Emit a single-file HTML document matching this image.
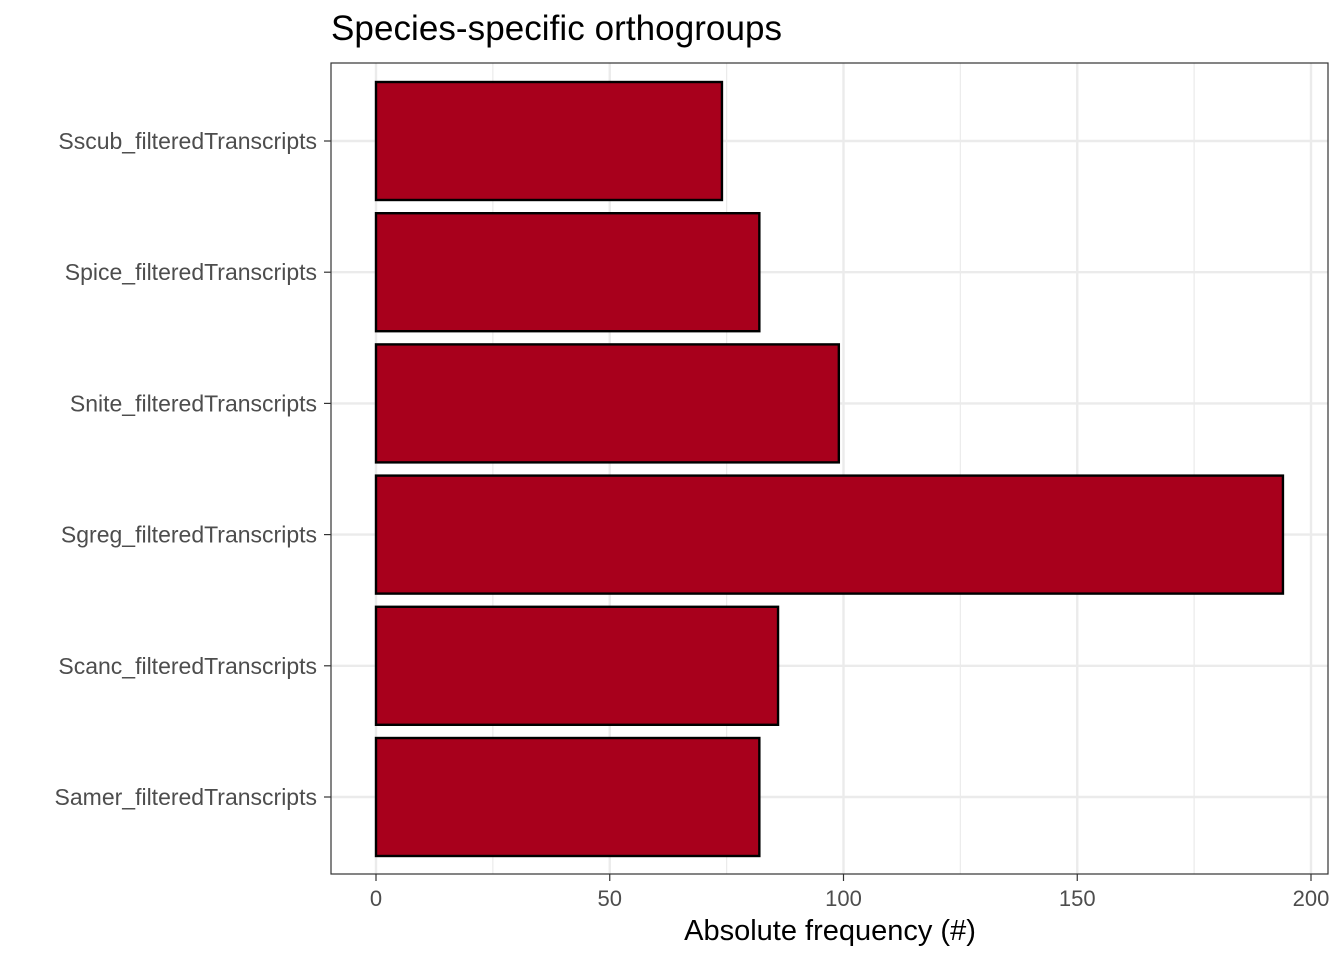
<!DOCTYPE html>
<html><head><meta charset="utf-8"><style>
body{margin:0;background:#fff;}
svg text{font-family:"Liberation Sans",Arial,sans-serif;}
</style></head><body>
<svg id="chart" width="1344" height="960">
<text x="331" y="40" font-size="35" fill="#000" textLength="451">Species-specific orthogroups</text>
<g id="grid"></g><g id="bars"></g><g id="axes"></g>
<rect x="331" y="63" width="997" height="811" fill="none" stroke="#333" stroke-width="1.2"/>
<text x="830" y="940" font-size="29" text-anchor="middle" fill="#000">Absolute frequency (#)</text>
</svg>
<script>
const categories=["Sscub_filteredTranscripts","Spice_filteredTranscripts","Snite_filteredTranscripts","Sgreg_filteredTranscripts","Scanc_filteredTranscripts","Samer_filteredTranscripts"];
const values=[74,82,99,194,86,82];
const xTicks=[0,50,100,150,200];
const xMinor=[25,75,125,175];
const NS="http://www.w3.org/2000/svg";
const x=v=>376+v*(1311-376)/200;
const y0=141,step=131.2;
const y=i=>y0+i*step;
function mk(t,a,p){const e=document.createElementNS(NS,t);for(const k in a)e.setAttribute(k,a[k]);p.appendChild(e);return e;}
const g=document.getElementById('grid'),b=document.getElementById('bars'),ax=document.getElementById('axes');
xMinor.forEach(v=>{const l=mk('line',{x1:x(v),x2:x(v),y1:63,y2:874,stroke:'#ebebeb','stroke-width':1.2},g);

});
xTicks.forEach(v=>{const l=mk('line',{x1:x(v),x2:x(v),y1:63,y2:874,stroke:'#ebebeb','stroke-width':2.4},g);


const t=mk('line',{x1:x(v),x2:x(v),y1:874,y2:881,stroke:'#333','stroke-width':1.2},ax);


const tx=mk('text',{x:x(v),y:906,'font-size':22,'text-anchor':'middle',fill:'#4d4d4d'},ax);tx.textContent=v;

});
categories.forEach((c,i)=>{const l=mk('line',{x1:331,x2:1328,y1:y(i),y2:y(i),stroke:'#ebebeb','stroke-width':2.4},g);


const r=mk('rect',{x:x(0),y:y(i)-59,width:x(values[i])-x(0),height:118,fill:'#a8001c',stroke:'#000','stroke-width':2.4},b);


const t=mk('line',{x1:324,x2:331,y1:y(i),y2:y(i),stroke:'#333','stroke-width':1.2},ax);


const tx=mk('text',{x:317,y:y(i)+8,'font-size':23,'text-anchor':'end',fill:'#4d4d4d'},ax);tx.textContent=c;

});
</script>
</body></html>
